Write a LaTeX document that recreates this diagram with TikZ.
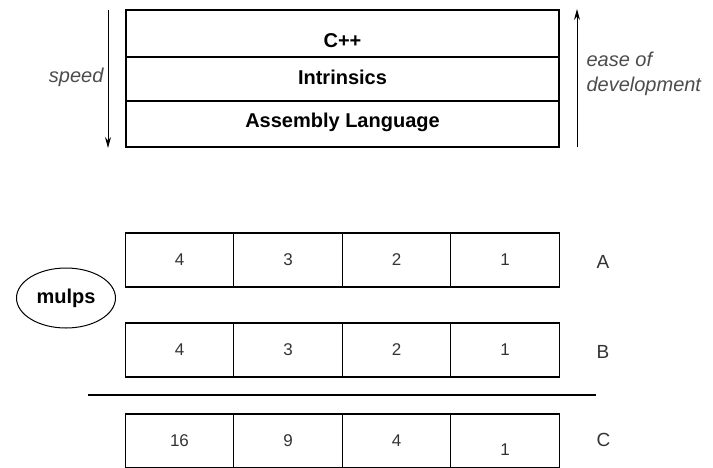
\documentclass[tikz,border=0pt]{standalone}
\usepackage{fontspec}
\setmainfont{Liberation Sans}
\usetikzlibrary{arrows.meta,shapes.geometric}
\begin{document}
\begin{tikzpicture}[x=1pt,y=-1pt,
  line width=1.1pt,
  layer/.style={draw, minimum width=433pt, inner sep=0pt},
  ltext/.style={font=\bfseries\fontsize{20}{24}\selectfont, inner sep=0pt},
  cell/.style={draw, minimum width=108.5pt, minimum height=54pt, inner sep=0pt, text=black!80, font=\fontsize{17}{20}\selectfont},
  rowlab/.style={text=black!80, font=\fontsize{19}{22}\selectfont, anchor=west, inner sep=0pt},
  side/.style={text=black!70, font=\itshape\fontsize{20}{25}\selectfont, inner sep=0pt},
  arr/.style={line width=1pt, -{Stealth[length=11pt,width=6pt]}}
]
\useasboundingbox (0,0) rectangle (713,467);
\clip (0,0) rectangle (713,467);
% top stack
\node[layer, minimum height=47pt] (cpp) at (342.5,33.5) {};
\node[layer, minimum height=44pt] (intr) at (342.5,79) {};
\node[layer, minimum height=46pt] (asm) at (342.5,124) {};
\node[ltext] (cppt) at (342.5,41) {C++};
\node[ltext] (intrt) at (342.5,77) {Intrinsics};
\node[ltext] (asmt) at (342.5,122) {Assembly Language};
% arrows
\coordinate (sTop) at (108,10);
\coordinate (sBot) at (108,148);
\draw[arr] (sTop) -- (sBot);
\node[side, anchor=east] (speed) at (104,77) {speed};
\coordinate (eTop) at (577,9);
\coordinate (eBot) at (577,147);
\draw[arr] (eBot) -- (eTop);
\node[side, anchor=west, align=left] (ease) at (586,74) {ease of\\development};
% row A
\node[cell] (a1) at (179.5,260) {4};
\node[cell] (a2) at (288,260) {3};
\node[cell] (a3) at (396.5,260) {2};
\node[cell] (a4) at (505,260) {1};
% row B
\node[cell] (b1) at (179.5,350) {4};
\node[cell] (b2) at (288,350) {3};
\node[cell] (b3) at (396.5,350) {2};
\node[cell] (b4) at (505,350) {1};
% row C
\node[cell] (c1) at (179.5,441) {16};
\node[cell] (c2) at (288,441) {9};
\node[cell] (c3) at (396.5,441) {4};
\node[cell] (c4) at (505,441) {};
\node[text=black!80, font=\fontsize{17}{20}\selectfont, inner sep=0pt] (c4t) at (505,450) {1};
% labels
\node[rowlab] (la) at (596,262) {A};
\node[rowlab] (lb) at (596,352) {B};
\node[rowlab] (lc) at (596,440) {C};
% separator
\coordinate (l1) at (88,395);
\coordinate (l2) at (596,395);
\draw (l1) -- (l2);
% mulps
\node[draw, ellipse, line width=1pt, minimum width=99pt, minimum height=60pt, inner sep=0pt, font=\bfseries\fontsize{20}{24}\selectfont] (mulps) at (66,298) {mulps};
\end{tikzpicture}
\end{document}
